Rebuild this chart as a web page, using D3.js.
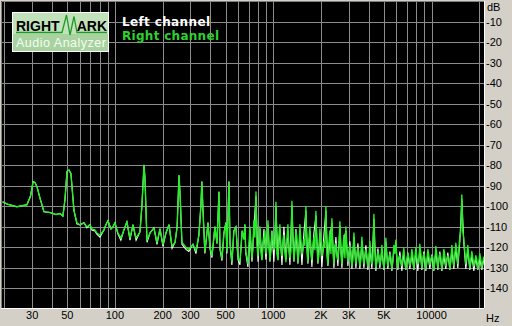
<!DOCTYPE html>
<html>
<head>
<meta charset="utf-8">
<script src="https://cdn.jsdelivr.net/npm/d3@7"></script>
<style>
  html, body { margin: 0; padding: 0; background: #d4d0c8; overflow: hidden; }
</style>
</head>
<body>
<script>
const freqLow = [19.5, 21, 24, 27.8, 29.3, 30.4, 31.3, 32.2, 33.6, 35.6,
  38.8, 42.4, 45, 46.9, 48.3, 49.8, 51.2, 52.7, 55.1, 57.5,
  60.1, 63.7, 66.5, 69.5, 71.5, 74.7, 76.9, 80.4, 85.2, 87.7,
  90.3, 94.3, 97.1, 100, 104.5, 109, 114, 119, 124.4, 130,
  136, 143.8, 148, 152.5, 154.7, 159.4, 166.5, 176.4, 184.3, 192.6,
  201, 210, 219.6, 229.5, 239.8, 247, 254, 258.5, 265, 281,
  293, 311, 325, 339, 349, 354, 360, 370, 387, 399,
  410, 428, 441, 454, 461, 474, 488, 502, 510, 525,
  533, 548, 564, 581, 599, 616, 636, 653, 662, 671, 692]

const rightLow = [-97.8, -99, -100.2, -99.2, -95, -88, -88.5, -90.5, -96, -102.6,
  -103, -104, -103.5, -104.8, -97, -83, -82.3, -84, -102, -108,
  -109, -108, -110, -109, -111, -111.5, -113, -114, -111.5, -109,
  -107, -111, -110, -108, -113, -115.5, -111.5, -107.5, -115.5, -109,
  -115.5, -112.5, -100, -80, -86, -116.5, -113, -110.5, -117.5, -111,
  -118.5, -113, -109, -119.5, -117.5, -110, -85, -96, -117.5, -120,
  -121, -118.5, -121.8, -114, -100, -88, -102, -122, -108, -120,
  -124, -110, -118, -93, -120, -125.5, -113, -108, -122, -88,
  -118, -127, -112, -110, -125, -127, -112, -116, -109, -122, -128]

const leftLow = [-97.8, -99, -100.2, -99.2, -95, -88, -88.5, -90.5, -96, -102.6,
  -103, -104, -103.5, -104.8, -97, -83, -82.3, -84, -102, -108.5,
  -109, -108, -110.5, -109, -111.5, -112, -113.5, -115, -111.5, -109,
  -107, -111, -110, -108, -113.5, -116.5, -111.5, -107.5, -116.5, -109,
  -116.5, -112.5, -100, -80, -86, -117.5, -113, -110.5, -118.5, -111,
  -119.5, -113, -109, -120.5, -117.5, -110, -85, -96, -118.5, -121,
  -122, -118.5, -123, -114, -100, -88, -102, -123, -108, -121,
  -125, -110, -118, -93, -121, -126.5, -113, -108, -123, -88,
  -118, -128.5, -112, -110, -126, -128.5, -112, -116, -109, -123, -129.5]

const freqHigh = [713, 734, 755, 778, 801, 824, 848, 874, 899, 926,
  953, 981, 1010, 1040, 1071, 1102, 1135, 1168, 1203, 1238,
  1275, 1312, 1351, 1391, 1432, 1474, 1518, 1562, 1608, 1656,
  1705, 1755, 1807, 1860, 1915, 1972, 2030, 2090, 2151, 2215,
  2280, 2347, 2417, 2488, 2561, 2637, 2715, 2795, 2877, 2962,
  3050, 3140, 3232, 3328, 3426, 3527, 3631, 3738, 3848, 3962,
  4079, 4199, 4323, 4450, 4582, 4717, 4856, 4999, 5147, 5298,
  5455, 5616, 5781, 5952, 6127, 6308, 6494, 6686, 6883, 7086,
  7295, 7510, 7732, 7960, 8195, 8436, 8685, 8941, 9205, 9477,
  9756, 10044, 10340, 10645, 10960, 11283, 11616, 11959, 12311, 12675,
  13048, 13433, 13830, 14238, 14658, 15090, 15535, 15994, 16466, 16951,
  17451, 17966, 18496, 19042, 19603, 20182, 20777, 21390]

const rightHigh = [-110, -125, -107, -93, -124, -110, -126, -115, -123, -107,
  -126, -112, -121, -98, -126, -109, -124, -114, -127, -109,
  -125, -97.5, -126, -112, -127, -109, -123, -116, -100, -127,
  -110, -126, -115, -102.5, -127, -111, -124, -117, -100, -128,
  -112, -106, -128, -118, -126, -107.5, -128, -114, -110, -127,
  -119, -129, -113, -128, -120, -129, -115, -128, -121, -129.5,
  -117, -128, -104, -130, -122, -128.5, -119, -130, -115.5, -129,
  -123, -130.5, -119, -116.5, -130, -124, -129, -120.5, -130.5, -123,
  -129, -121, -130.5, -120, -128, -118.5, -130, -123, -130.5, -121,
  -128.5, -124, -131, -119.5, -130, -123, -130.5, -121, -129, -124,
  -130.5, -119, -129, -118, -128, -115, -94.5, -116, -128, -119,
  -130, -122, -129, -124, -130.5, -123, -130, -124.5]

// in-between bins of the right channel noise floor
const freqHighMid = [723, 744, 766, 789, 812, 836, 861, 886, 912, 939,
  967, 995, 1025, 1055, 1086, 1118, 1151, 1185, 1220, 1256,
  1293, 1331, 1371, 1411, 1453, 1496, 1540, 1585, 1632, 1680,
  1730, 1781, 1833, 1887, 1943, 2001, 2060, 2120, 2183, 2247,
  2314, 2382, 2452, 2524, 2599, 2676, 2755, 2836, 2919, 3006,
  3094, 3186, 3280, 3377, 3476, 3579, 3684, 3793, 3905, 4020,
  4139, 4261, 4386, 4516, 4649, 4786, 4927, 5073, 5222, 5376,
  5535, 5698, 5866, 6039, 6217, 6401, 6590, 6784, 6984, 7190,
  7402, 7620, 7845, 8077, 8315, 8560, 8812, 9072, 9340, 9615,
  9899, 10191, 10492, 10801, 11120, 11448, 11786, 12134, 12492, 12860,
  13240, 13630, 14032, 14446, 14873, 15311, 15763, 16228, 16707, 17200,
  17708, 18230, 18769, 19322, 19892, 20479, 21083]

const rightHighMid = [-118, -121, -115, -119, -117, -122, -119, -112, -120, -118,
  -122, -116, -120, -123, -114, -121, -118, -123, -116, -120,
  -122, -117, -121, -115, -123, -117, -121, -119, -122, -116,
  -123, -119, -121, -118, -124, -117, -122, -120, -124, -118,
  -123, -121, -119, -124, -120, -123, -121, -125, -120, -124,
  -122, -126, -121, -124, -123, -126, -122, -125, -124, -126,
  -123, -126, -122, -127, -124, -126, -125, -127, -124, -126,
  -125, -127, -123, -126, -125, -127, -124, -127, -126, -125,
  -127, -124, -126, -125, -127, -123, -126, -125, -127, -124,
  -126, -125, -127, -124, -126, -125, -127, -124, -126, -125,
  -127, -123, -124, -122, -121, -112, -112, -122, -124, -125,
  -126, -125, -127, -126, -127, -126, -127]

const leftHigh = [-112, -127, -110, -95, -127, -111, -126, -111, -126, -109,
  -127, -112, -127, -100, -126, -111, -128.5, -110, -126, -112,
  -128.5, -99.5, -127, -111, -128, -112, -128.5, -113, -102, -128,
  -112, -129.5, -113, -104.5, -128, -113, -129.5, -114, -102, -129,
  -115, -108, -130, -115, -129, -109.5, -130, -116, -112, -129,
  -117, -130.5, -115, -130, -118, -130.5, -117, -130, -119, -131,
  -120, -130.5, -106, -131.5, -120.5, -130, -121, -131, -117.5, -130.5,
  -122, -131.5, -121, -118.5, -131, -122, -131.5, -123, -131, -122.5,
  -130.5, -123, -131, -121.5, -131.5, -120.5, -131, -122, -131.5, -123,
  -130.5, -123.5, -131.5, -121.5, -131, -122, -131.5, -124, -130.5, -122.5,
  -131, -121, -130.5, -120, -130, -117, -96.5, -118, -130.5, -121,
  -131, -124, -131.5, -125, -131, -125.5, -131, -126]

const dbTicks = [-10, -20, -30, -40, -50, -60, -70, -80, -90, -100, -110, -120, -130, -140]
const gridFreqs = [20, 30, 40, 50, 60, 70, 80, 90, 100, 200, 300, 400, 500, 600, 700, 800, 900,
  1000, 2000, 3000, 4000, 5000, 6000, 7000, 8000, 9000, 10000, 20000]
const freqLabels = [[30, '30'], [50, '50'], [100, '100'], [200, '200'], [300, '300'], [500, '500'],
  [1000, '1000'], [2000, '2K'], [3000, '3K'], [5000, '5K'], [10000, '10000']]

const w = 512
const h = 326
const plotL = 1, plotR = 485, plotT = 1, plotB = 309

const svg = d3.select('body')
  .append('svg')
  .attr('width', w)
  .attr('height', h)
  .style('display', 'block')

const x = d3.scaleLog().domain([20, 22050]).range([4.3, 485.9])
const y = d3.scaleLinear().domain([0, -150]).range([plotT, plotB])
const px = v => Math.round(v) + 0.5

svg.append('rect')
  .attr('x', plotL).attr('y', plotT)
  .attr('width', plotR - plotL).attr('height', plotB - plotT)
  .attr('fill', '#000')

svg.append('clipPath').attr('id', 'plot')
  .append('rect')
  .attr('x', plotL).attr('y', plotT)
  .attr('width', plotR - plotL).attr('height', plotB - plotT)

const grid = svg.append('g').attr('stroke', '#8c8c8c').attr('stroke-width', 1)
  .attr('clip-path', 'url(#plot)')

grid.selectAll('.hl')
  .data(dbTicks)
  .enter().append('line')
  .attr('x1', plotL).attr('x2', plotR)
  .attr('y1', d => px(y(d))).attr('y2', d => px(y(d)))

grid.selectAll('.vl')
  .data(gridFreqs)
  .enter().append('line')
  .attr('y1', plotT).attr('y2', plotB)
  .attr('x1', d => px(x(d))).attr('x2', d => px(x(d)))

// sunken border
svg.append('path')
  .attr('d', `M${plotL + 0.5},${plotB}V${plotT + 0.5}H${plotR}`)
  .attr('fill', 'none').attr('stroke', '#808080')
svg.append('path')
  .attr('d', `M${plotL},${plotB - 0.5}H${plotR - 0.5}V${plotT}`)
  .attr('fill', 'none').attr('stroke', '#fff')

const line = d3.line()
  .x(d => x(d[0]))
  .y(d => y(d[1]))

const leftData = freqLow.map((f, i) => [f, leftLow[i]])
  .concat(freqHigh.map((f, i) => [f, leftHigh[i]]))
const rightData = freqLow.map((f, i) => [f, rightLow[i]])
  .concat(freqHigh.map((f, i) => [f, rightHigh[i]]))
  .concat(freqHighMid.map((f, i) => [f, rightHighMid[i]]))
  .sort((a, b) => a[0] - b[0])

const plot = svg.append('g').attr('clip-path', 'url(#plot)')

plot.append('path')
  .data([leftData])
  .attr('d', line)
  .attr('fill', 'none')
  .attr('stroke', '#ffffff')
  .attr('stroke-width', 1.1)

plot.append('path')
  .data([rightData])
  .attr('d', line)
  .attr('fill', 'none')
  .attr('stroke', '#22f022')
  .attr('stroke-width', 1.4)
  .attr('stroke-linejoin', 'round')

// axis labels
svg.selectAll('.ylab')
  .data(dbTicks)
  .enter().append('text')
  .attr('x', 486)
  .attr('y', d => y(d) + 4)
  .attr('font-family', 'Liberation Sans, Arial, sans-serif')
  .attr('font-size', 11)
  .attr('fill', '#000')
  .text(d => d)

svg.append('text')
  .attr('x', 487).attr('y', 11)
  .attr('font-family', 'Liberation Sans, Arial, sans-serif')
  .attr('font-size', 11)
  .text('dB')

svg.selectAll('.xlab')
  .data(freqLabels)
  .enter().append('text')
  .attr('x', d => x(d[0]))
  .attr('y', 319)
  .attr('text-anchor', 'middle')
  .attr('font-family', 'Liberation Sans, Arial, sans-serif')
  .attr('font-size', 11)
  .text(d => d[1])

svg.append('text')
  .attr('x', 486).attr('y', 322)
  .attr('font-family', 'Liberation Sans, Arial, sans-serif')
  .attr('font-size', 11)
  .text('Hz')

// logo
const logo = svg.append('g')
logo.append('rect')
  .attr('x', 12.5).attr('y', 12.5).attr('width', 96).attr('height', 39)
  .attr('fill', '#c2e2ba').attr('stroke', '#ffffff')
logo.append('rect')
  .attr('x', 13).attr('y', 34).attr('width', 95).attr('height', 17)
  .attr('fill', '#a8d3a0')
logo.append('path')
  .attr('d', 'M16,32.5H62L66.5,15L70,35L74,16.5L77,32.5H107')
  .attr('fill', 'none').attr('stroke', '#1f9a2a').attr('stroke-width', 1.3)
logo.append('text')
  .attr('x', 16).attr('y', 31)
  .attr('font-family', 'Liberation Sans, Arial, sans-serif')
  .attr('font-weight', 'bold').attr('font-size', 14)
  .attr('fill', '#000')
  .text('RIGHT')
logo.append('text')
  .attr('x', 107).attr('y', 31)
  .attr('text-anchor', 'end')
  .attr('font-family', 'Liberation Sans, Arial, sans-serif')
  .attr('font-weight', 'bold').attr('font-size', 14)
  .attr('fill', '#000')
  .text('ARK')
logo.append('text')
  .attr('x', 16).attr('y', 47)
  .attr('font-family', 'Liberation Sans, Arial, sans-serif')
  .attr('font-size', 12.5)
  .attr('textLength', 90)
  .attr('fill', '#f4fbf2')
  .text('Audio Analyzer')

// legend
svg.append('text')
  .attr('x', 122).attr('y', 26)
  .attr('font-family', 'DejaVu Sans, sans-serif')
  .attr('font-weight', 'bold').attr('font-size', 12)
  .attr('textLength', 88)
  .attr('fill', '#ffffff')
  .text('Left channel')
svg.append('text')
  .attr('x', 122).attr('y', 40)
  .attr('font-family', 'DejaVu Sans, sans-serif')
  .attr('font-weight', 'bold').attr('font-size', 12)
  .attr('textLength', 97)
  .attr('fill', '#2ed12e')
  .text('Right channel')
</script>
</body>
</html>
